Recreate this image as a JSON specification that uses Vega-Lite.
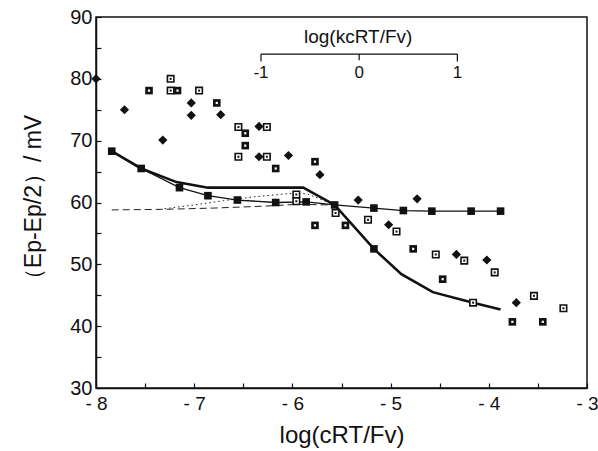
{
  "$schema": "https://vega.github.io/schema/vega-lite/v6.json",
  "width": 491,
  "height": 371,
  "autosize": "none",
  "padding": {"left": 96, "top": 17, "right": 11, "bottom": 63},
  "background": "white",
  "config": {
    "view": {"stroke": "#111", "strokeWidth": 1.5},
    "font": "Liberation Sans",
    "axis": {
      "domainColor": "#111", "domainWidth": 1.5, "tickColor": "#111", "tickWidth": 1.2,
      "labelColor": "#111", "titleColor": "#111", "labelFont": "Liberation Sans", "titleFont": "Liberation Sans",
      "titleFontWeight": "normal", "grid": false
    }
  },
  "datasets": {
    "thin": [
      {"x": -7.84, "y": 68.3}, {"x": -7.54, "y": 65.5}, {"x": -7.15, "y": 62.4}, {"x": -6.86, "y": 61.1},
      {"x": -6.56, "y": 60.4}, {"x": -6.17, "y": 60.0}, {"x": -5.86, "y": 60.1}, {"x": -5.57, "y": 59.6},
      {"x": -5.17, "y": 59.1}, {"x": -4.87, "y": 58.7}, {"x": -4.58, "y": 58.6}, {"x": -4.18, "y": 58.6},
      {"x": -3.88, "y": 58.6}
    ],
    "filled": [
      {"x": -7.84, "y": 68.3}, {"x": -7.54, "y": 65.5}, {"x": -7.15, "y": 62.4}, {"x": -6.86, "y": 61.1},
      {"x": -6.56, "y": 60.4}, {"x": -6.17, "y": 60.0}, {"x": -5.86, "y": 60.1}, {"x": -5.57, "y": 59.6},
      {"x": -5.17, "y": 59.1}, {"x": -4.87, "y": 58.7}, {"x": -4.58, "y": 58.6}, {"x": -4.18, "y": 58.6},
      {"x": -3.88, "y": 58.6}, {"x": -5.17, "y": 52.5}
    ],
    "thick": [
      {"x": -7.84, "y": 68.3}, {"x": -7.54, "y": 65.5}, {"x": -7.18, "y": 63.3}, {"x": -6.86, "y": 62.4},
      {"x": -5.89, "y": 62.4}, {"x": -5.57, "y": 59.6}, {"x": -5.17, "y": 52.5}, {"x": -4.89, "y": 48.4},
      {"x": -4.57, "y": 45.5}, {"x": -4.16, "y": 43.8}, {"x": -3.88, "y": 42.7}
    ],
    "dotted": [
      {"x": -7.3, "y": 59.0}, {"x": -7.0, "y": 59.6}, {"x": -6.7, "y": 60.3}, {"x": -6.4, "y": 60.9},
      {"x": -6.0, "y": 61.5}, {"x": -5.85, "y": 61.4}, {"x": -5.57, "y": 59.6}
    ],
    "dashed": [
      {"x": -7.84, "y": 58.8}, {"x": -7.3, "y": 58.9}, {"x": -6.8, "y": 59.1}, {"x": -6.3, "y": 59.4},
      {"x": -5.95, "y": 59.7}, {"x": -5.57, "y": 59.6}
    ],
    "diamond": [
      {"x": -8.0, "y": 80.0}, {"x": -7.71, "y": 75.0}, {"x": -7.32, "y": 70.1}, {"x": -7.03, "y": 76.1},
      {"x": -7.03, "y": 74.1}, {"x": -6.73, "y": 74.2}, {"x": -6.34, "y": 72.3}, {"x": -6.34, "y": 67.4},
      {"x": -6.04, "y": 67.6}, {"x": -5.72, "y": 64.5}, {"x": -5.33, "y": 60.4}, {"x": -4.73, "y": 60.6},
      {"x": -5.02, "y": 56.4}, {"x": -4.33, "y": 51.6}, {"x": -4.02, "y": 50.7}, {"x": -3.72, "y": 43.8}
    ],
    "open": [
      {"x": -7.24, "y": 80.0}, {"x": -7.24, "y": 78.1}, {"x": -6.95, "y": 78.1}, {"x": -6.55, "y": 72.2},
      {"x": -6.26, "y": 72.2}, {"x": -6.55, "y": 67.4}, {"x": -6.26, "y": 67.4}, {"x": -5.96, "y": 61.3},
      {"x": -5.96, "y": 60.2}, {"x": -5.56, "y": 58.3}, {"x": -5.23, "y": 57.2}, {"x": -4.94, "y": 55.3},
      {"x": -4.54, "y": 51.6}, {"x": -4.25, "y": 50.6}, {"x": -3.94, "y": 48.7}, {"x": -3.54, "y": 44.9},
      {"x": -3.24, "y": 42.9}, {"x": -4.16, "y": 43.8}
    ],
    "dark": [
      {"x": -7.46, "y": 78.1}, {"x": -7.17, "y": 78.1}, {"x": -6.77, "y": 76.1}, {"x": -6.48, "y": 71.2},
      {"x": -6.48, "y": 69.2}, {"x": -6.17, "y": 65.5}, {"x": -5.77, "y": 66.6}, {"x": -5.77, "y": 56.3},
      {"x": -5.46, "y": 56.3}, {"x": -4.77, "y": 52.5}, {"x": -4.47, "y": 47.6}, {"x": -3.76, "y": 40.7},
      {"x": -3.45, "y": 40.7}
    ],
    "kcAxis": [{"x": -6.32, "x2": -4.32, "y": 84.0}],
    "kcTicks": [
      {"x": -6.32, "y": 84.0, "y2": 82.8, "label": "-1", "ly": 80.9},
      {"x": -5.32, "y": 84.0, "y2": 83.0, "label": "0", "ly": 80.9},
      {"x": -4.32, "y": 84.0, "y2": 82.8, "label": "1", "ly": 80.9}
    ],
    "kcTitle": [{"x": -5.33, "y": 86.7, "label": "log(kcRT/Fv)"}]
  },
  "encoding": {
    "x": {
      "field": "x", "type": "quantitative",
      "scale": {"domain": [-8, -3], "nice": false, "zero": false},
      "axis": {
        "title": "log(cRT/Fv)", "titleFontSize": 24, "titlePadding": 10,
        "values": [-8, -7.5, -7, -6.5, -6, -5.5, -5, -4.5, -4, -3.5, -3],
        "labelExpr": "datum.value % 1 === 0 ? '- ' + abs(datum.value) : ''",
        "labelFontSize": 19, "labelPadding": 11, "tickSize": -5, "labelFlush": false
      }
    },
    "y": {
      "field": "y", "type": "quantitative",
      "scale": {"domain": [30, 90], "nice": false, "zero": false},
      "axis": {
        "title": "（Ep-Ep/2）/ mV", "titleFontSize": 23, "titlePadding": 24,
        "values": [30, 35, 40, 45, 50, 55, 60, 65, 70, 75, 80, 85, 90],
        "labelExpr": "datum.value % 10 === 0 ? datum.value : ''",
        "labelFontSize": 20, "labelPadding": 9, "tickSize": -5, "labelFlush": false
      }
    }
  },
  "layer": [
    {"data": {"name": "dashed"}, "mark": {"type": "line", "color": "#222", "strokeWidth": 1, "strokeDash": [7, 4]}},
    {"data": {"name": "dotted"}, "mark": {"type": "line", "color": "#222", "strokeWidth": 1, "strokeDash": [1.5, 3]}},
    {"data": {"name": "thick"}, "mark": {"type": "line", "color": "#111", "strokeWidth": 2.6}},
    {"data": {"name": "thin"}, "mark": {"type": "line", "color": "#111", "strokeWidth": 1.3}},
    {"data": {"name": "filled"}, "mark": {"type": "point", "shape": "square", "filled": true, "color": "#111", "size": 58, "opacity": 1}},
    {"data": {"name": "diamond"}, "mark": {"type": "point", "shape": "diamond", "filled": true, "color": "#111", "size": 85, "opacity": 1}},
    {"data": {"name": "open"}, "mark": {"type": "point", "shape": "square", "filled": true, "fill": "white", "stroke": "#111", "strokeWidth": 1.6, "size": 42, "opacity": 1}},
    {"data": {"name": "open"}, "mark": {"type": "point", "shape": "square", "filled": true, "color": "#111", "size": 4, "opacity": 1}},
    {"data": {"name": "dark"}, "mark": {"type": "point", "shape": "square", "filled": true, "color": "#111", "size": 58, "opacity": 1}},
    {"data": {"name": "dark"}, "mark": {"type": "point", "shape": "square", "filled": true, "color": "white", "size": 5, "opacity": 1}},
    {"data": {"name": "kcAxis"}, "mark": {"type": "rule", "color": "#111", "strokeWidth": 1.2},
      "encoding": {"x2": {"field": "x2"}}},
    {"data": {"name": "kcTicks"}, "mark": {"type": "rule", "color": "#111", "strokeWidth": 1.2},
      "encoding": {"y2": {"field": "y2"}}},
    {"data": {"name": "kcTicks"}, "mark": {"type": "text", "font": "Liberation Sans", "fontSize": 17, "color": "#111", "align": "center", "baseline": "middle"},
      "encoding": {"y": {"field": "ly", "type": "quantitative"}, "text": {"field": "label"}}},
    {"data": {"name": "kcTitle"}, "mark": {"type": "text", "font": "Liberation Sans", "fontSize": 19, "color": "#111", "align": "center", "baseline": "middle"},
      "encoding": {"text": {"field": "label"}}}
  ]
}
